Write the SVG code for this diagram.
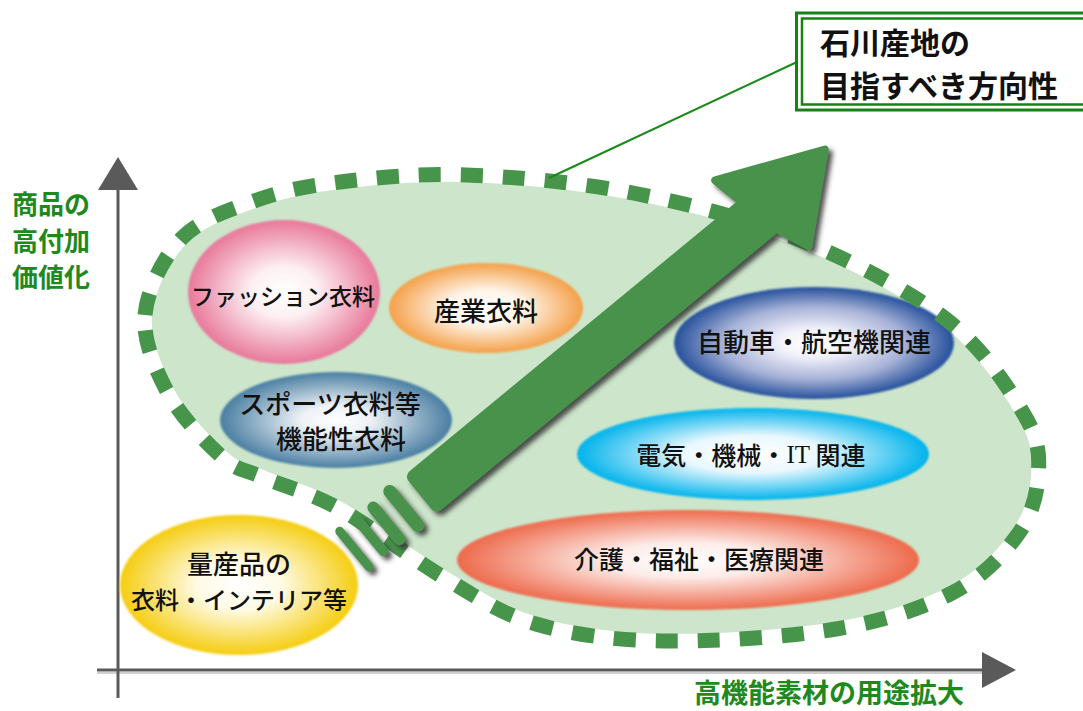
<svg xmlns="http://www.w3.org/2000/svg" width="1083" height="711" viewBox="0 0 1083 711">
<style>
.jp{font-family:"Noto Sans CJK JP","Noto Sans",sans-serif;fill:#111;text-anchor:middle;dominant-baseline:central;font-weight:500}
.gl{font-family:"Noto Sans CJK JP","Noto Sans",sans-serif;fill:#1e8a1e;font-weight:bold;dominant-baseline:central}
.tt{font-family:"Noto Sans CJK JP","Noto Sans",sans-serif;fill:#111;font-weight:bold;dominant-baseline:central}
.ax{stroke:#5a5a5a;stroke-width:3;fill:none}
.axs{stroke:#d0d0d0;stroke-width:2;fill:none}
.stripe{stroke:#48924c;stroke-linecap:round;fill:none}
</style>
<defs>
<filter id="soft" x="-10%" y="-10%" width="120%" height="120%"><feGaussianBlur stdDeviation="1.3"/></filter>
<filter id="shadow" x="-10%" y="-10%" width="125%" height="125%"><feDropShadow dx="4" dy="4" stdDeviation="2.5" flood-color="#333" flood-opacity="0.85"/></filter>
<radialGradient id="gPink"><stop offset="0" stop-color="#fff"/><stop offset="0.35" stop-color="#fdf0f3"/><stop offset="1" stop-color="#e8789a"/></radialGradient>
<radialGradient id="gOrange"><stop offset="0" stop-color="#fff"/><stop offset="0.4" stop-color="#fff4e8"/><stop offset="1" stop-color="#f4a049"/></radialGradient>
<radialGradient id="gSteel"><stop offset="0" stop-color="#fff"/><stop offset="0.3" stop-color="#eef2f6"/><stop offset="1" stop-color="#4a7ea2"/></radialGradient>
<radialGradient id="gYellow"><stop offset="0" stop-color="#fff"/><stop offset="0.35" stop-color="#fffbe6"/><stop offset="1" stop-color="#f5cd10"/></radialGradient>
<radialGradient id="gNavy"><stop offset="0" stop-color="#fff"/><stop offset="0.25" stop-color="#f2f2fb"/><stop offset="0.65" stop-color="#a6b1d6"/><stop offset="1" stop-color="#25509c"/></radialGradient>
<radialGradient id="gCyan"><stop offset="0" stop-color="#fff"/><stop offset="0.4" stop-color="#eaf8fe"/><stop offset="1" stop-color="#00b3ec"/></radialGradient>
<radialGradient id="gRed"><stop offset="0" stop-color="#fff"/><stop offset="0.35" stop-color="#fdece8"/><stop offset="1" stop-color="#ee6a4c"/></radialGradient>
<path id="blob" d="M145,315 C147.3,289.2 163.3,257.2 182,238 C200.7,218.8 230.7,209.3 257,200 C283.3,190.7 305.2,186.2 340,182 C374.8,177.8 417.2,173.2 466,175 C514.8,176.8 577.3,182.2 633,193 C688.7,203.8 747.7,218.8 800,240 C852.3,261.2 909.5,290.7 947,320 C984.5,349.3 1009.8,389.7 1025,416 C1040.2,442.3 1039.5,457.8 1038,478 C1036.5,498.2 1030.3,517.8 1016,537 C1001.7,556.2 982,577.7 952,593 C922,608.3 884.2,621 836,629 C787.8,637 713,641.8 663,641 C613,640.2 572.7,634.7 536,624 C499.3,613.3 475.7,596.2 443,577 C410.3,557.8 370.2,525.7 340,509 C309.8,492.3 281.7,485.7 262,477 C242.3,468.3 237.7,471 222,457 C206.3,443 180.8,416.7 168,393 C155.2,369.3 142.7,340.8 145,315 Z"/>
</defs>
<rect width="1083" height="711" fill="#fff"/>

<g id="region">
<use href="#blob" fill="#cde6cb"/>
<use href="#blob" fill="none" stroke="#fff" stroke-width="14"/>
</g>

<g id="connectors">
<line class="axs" x1="97" y1="673" x2="985" y2="673"/>
<line class="ax" x1="118" y1="185" x2="118" y2="698"/>
<line class="ax" x1="97" y1="670" x2="985" y2="670"/>
<polygon points="118,157 98,190 138,190" fill="#5a5a5a"/>
<polygon points="1016,670 982,652 982,688" fill="#5a5a5a"/>
</g>

<g id="node-fashion">
<ellipse cx="284" cy="292" rx="96" ry="72" fill="url(#gPink)" filter="url(#soft)"/>
<text class="jp" x="283" y="295" font-size="23">ファッション衣料</text>
</g>
<g id="node-sangyo">
<ellipse cx="486" cy="308" rx="97" ry="45" fill="url(#gOrange)" filter="url(#soft)"/>
<text class="jp" x="486" y="309" font-size="26">産業衣料</text>
</g>
<g id="node-sports">
<ellipse cx="336" cy="420" rx="116" ry="48" fill="url(#gSteel)" filter="url(#soft)"/>
<text class="jp" x="330" y="402" font-size="26">スポーツ衣料等</text>
<text class="jp" x="341" y="437" font-size="26">機能性衣料</text>
</g>
<g id="node-mass">
<ellipse cx="239" cy="585" rx="119" ry="70" fill="url(#gYellow)" filter="url(#soft)"/>
<text class="jp" x="239" y="562" font-size="26">量産品の</text>
<text class="jp" x="239" y="598" font-size="24">衣料・インテリア等</text>
</g>
<g id="node-auto">
<ellipse cx="814" cy="343" rx="140" ry="56" fill="url(#gNavy)" filter="url(#soft)"/>
<text class="jp" x="814" y="340" font-size="26">自動車・航空機関連</text>
</g>
<g id="node-elec">
<ellipse cx="753" cy="454" rx="176" ry="46" fill="url(#gCyan)" filter="url(#soft)"/>
<text class="jp" x="751" y="454" font-size="25">電気・機械・<tspan font-family="Liberation Serif, serif">IT</tspan> 関連</text>
</g>
<g id="node-care">
<ellipse cx="688" cy="560" rx="231" ry="50" fill="url(#gRed)" filter="url(#soft)"/>
<text class="jp" x="699" y="558" font-size="25">介護・福祉・医療関連</text>
</g>

<g id="region-border">
<use href="#blob" fill="none" stroke="#47944b" stroke-width="15" stroke-dasharray="22 20"/>
</g>

<g id="direction-arrow" filter="url(#shadow)">
<g transform="translate(420,495) rotate(-39.5)" fill="#48924c">
<rect x="0" y="-25" width="448" height="50" rx="7"/>
<polygon points="434,-25 428,-55 532,-9 458,55 446,25" stroke="#48924c" stroke-width="8" stroke-linejoin="round"/>
<line class="stripe" x1="-21" y1="-22" x2="-21" y2="22" stroke-width="13"/>
<line class="stripe" x1="-44" y1="-20" x2="-44" y2="21" stroke-width="12"/>
<line class="stripe" x1="-64" y1="-20" x2="-64" y2="20" stroke-width="10"/>
<line class="stripe" x1="-85" y1="-23" x2="-85" y2="23" stroke-width="9"/>
</g>
</g>

<g id="callout">
<line x1="797" y1="62" x2="549" y2="178" stroke="#1a8a1a" stroke-width="2"/>
<rect x="796.5" y="13" width="300" height="97" fill="#fff" stroke="#178017" stroke-width="3"/>
<rect x="802" y="18.5" width="300" height="86" fill="none" stroke="#178017" stroke-width="2.5"/>
<text class="tt" x="820" y="41" font-size="30">石川産地の</text>
<text class="tt" x="820" y="84" font-size="30">目指すべき方向性</text>
</g>

<g id="y-label">
<text class="gl" x="12" y="202" font-size="26">商品の</text>
<text class="gl" x="12" y="239" font-size="26">高付加</text>
<text class="gl" x="12" y="275" font-size="26">価値化</text>
</g>
<g id="x-label">
<text class="gl" x="694" y="691" font-size="27">高機能素材の用途拡大</text>
</g>
</svg>
